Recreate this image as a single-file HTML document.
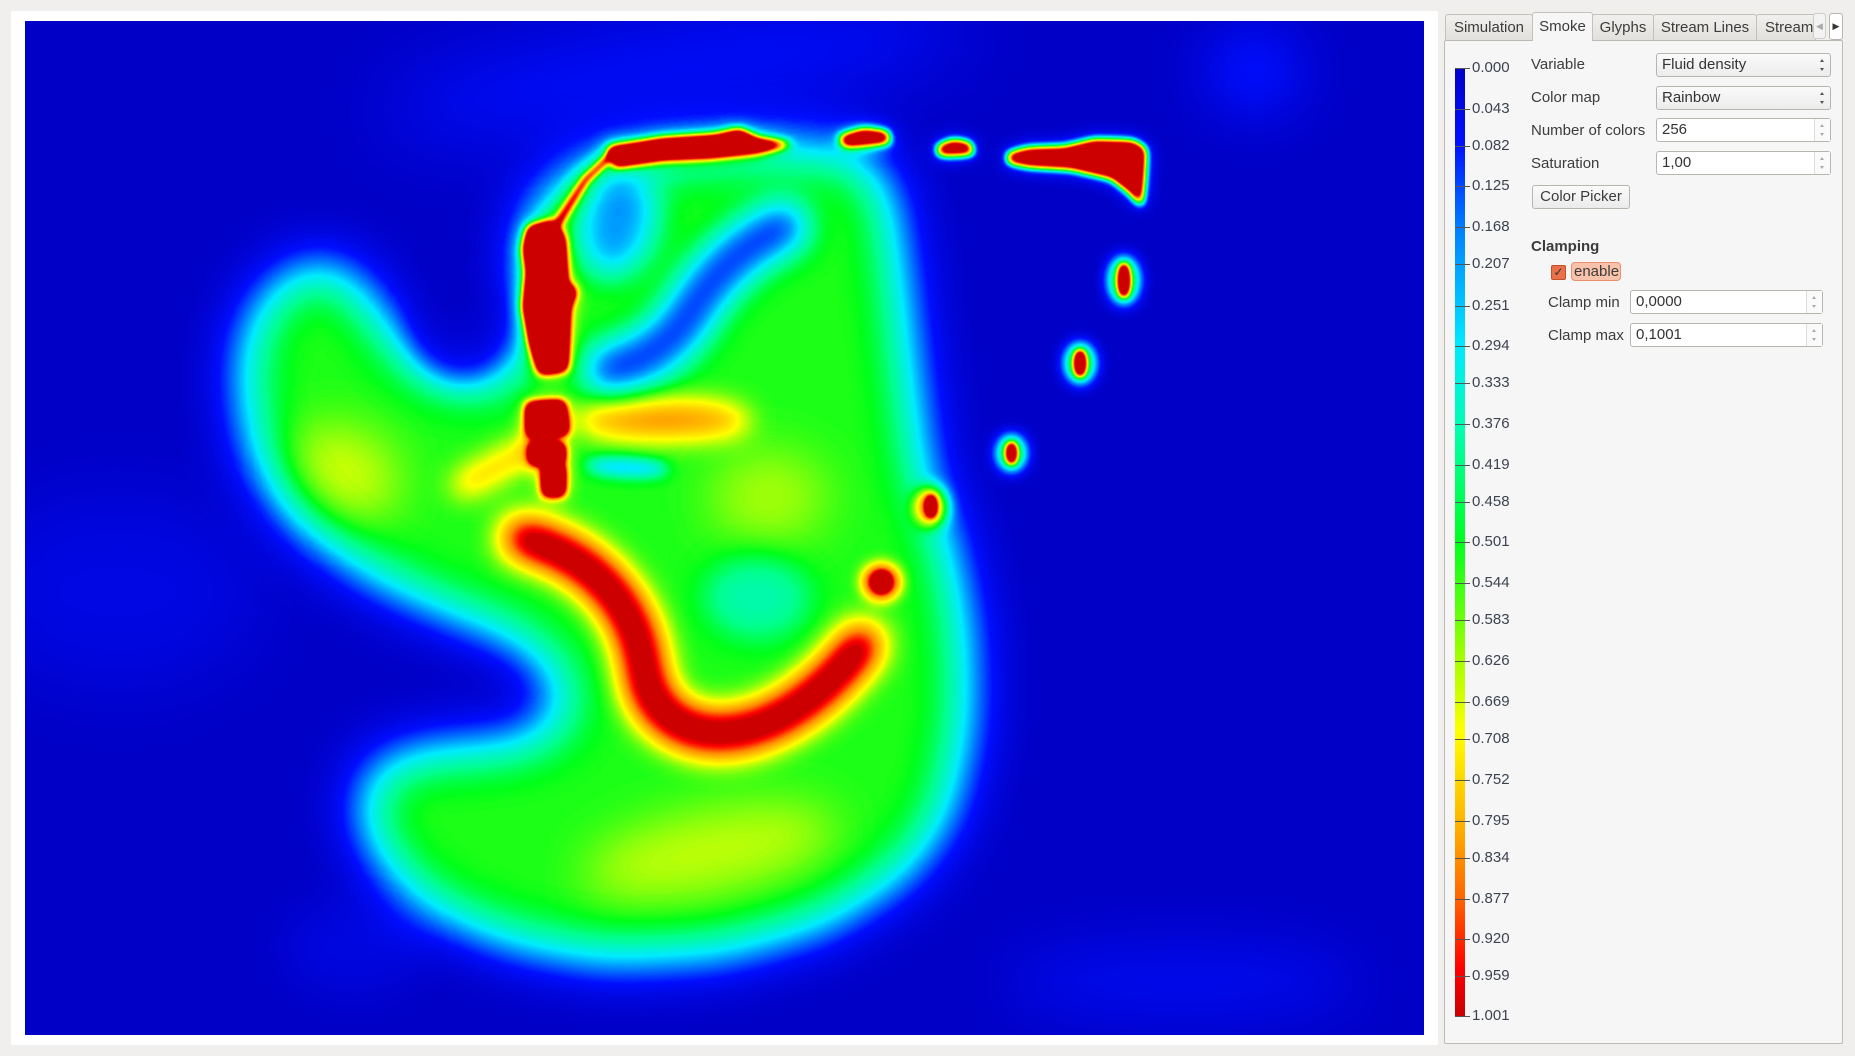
<!DOCTYPE html>
<html><head><meta charset="utf-8">
<style>
body{margin:0;width:1855px;height:1056px;background:#f0efed;position:relative;overflow:hidden;font-family:"Liberation Sans","DejaVu Sans",sans-serif;font-size:15px;color:#3c3c3c}
.abs{position:absolute}
#frame{left:11px;top:11px;width:1427px;height:1034px;background:#fff}
#viz{left:25px;top:21px}
.tab{position:absolute;top:14px;height:26px;border:1px solid #c4c0ba;border-bottom:none;background:linear-gradient(#f1f0ee,#e2e0dc);line-height:26px;text-align:center;border-radius:3px 3px 0 0;box-sizing:border-box;overflow:hidden;white-space:nowrap}
#panel{left:1444px;top:40px;width:399px;height:1004px;background:#f6f6f6;border:1px solid #bdb9b3;border-radius:2px;box-sizing:border-box}
.lbl{position:absolute;line-height:18px}
.combo,.spin{position:absolute;height:24px;border:1px solid #b8b4ae;border-radius:3px;box-sizing:border-box;background:linear-gradient(#fafafa,#ececec);line-height:22px;padding-left:5px;color:#333}
.spin{background:#fff}
.spin .arr{position:absolute;right:0;top:0;width:15px;height:22px;border-left:1px solid #ddd;background:#fafafa}
.arr:before{content:"";position:absolute;left:5px;top:5px;border:2.5px solid transparent;border-bottom:3px solid #aaa;border-top:none}
.arr:after{content:"";position:absolute;left:5px;top:14px;border:2.5px solid transparent;border-top:3px solid #aaa;border-bottom:none}
.combo .arr{position:absolute;right:3px;top:0;width:12px;height:22px}
.combo .arr:before{border-bottom-color:#555}.combo .arr:after{border-top-color:#555}
.tick{position:absolute;left:1455px;width:15px;height:1px;background:#555}
.tl{position:absolute;left:1472px;line-height:16px;font-size:15px;color:#3c4250}
</style></head><body>
<div class="abs" id="frame"></div>
<canvas class="abs" id="viz" width="1399" height="1014"></canvas>

<div class="tab" style="left:1445px;width:88px">Simulation</div>
<div class="tab" style="left:1532px;width:61px;top:12px;height:29px;background:#f6f6f6;z-index:2;line-height:28px">Smoke</div>
<div class="tab" style="left:1592px;width:62px">Glyphs</div>
<div class="tab" style="left:1653px;width:104px">Stream Lines</div>
<div class="tab" style="left:1756px;width:60px;text-align:left;padding-left:8px">Stream</div>
<div class="abs" style="left:1813px;top:13px;width:13px;height:26px;border:1px solid #d0ccc6;border-radius:3px;background:#f3f3f3;box-sizing:border-box;font-size:9px;color:#aaa;line-height:24px;text-align:center">◀</div>
<div class="abs" style="left:1829px;top:13px;width:14px;height:27px;border:1px solid #b8b4ae;border-radius:3px;background:#fff;box-sizing:border-box;font-size:9px;color:#333;line-height:25px;text-align:center">▶</div>

<div class="abs" id="panel"></div>

<div class="abs" style="left:1455px;top:68px;width:10px;height:948px;background:linear-gradient(#0000c8 0%,#0010ff 8%,#0080ff 17%,#00e8ff 29%,#00ffb0 38%,#00ff20 50%,#a0ff00 62%,#ffff00 70%,#ffb000 80%,#ff6000 88%,#ff0000 95%,#c80000 100%)"></div>
<div id="ticks"></div>

<div class="lbl" style="left:1531px;top:56px">Variable</div>
<div class="combo" style="left:1656px;top:53px;width:175px">Fluid density<span class="arr"></span></div>
<div class="lbl" style="left:1531px;top:89px">Color map</div>
<div class="combo" style="left:1656px;top:86px;width:175px">Rainbow<span class="arr"></span></div>
<div class="lbl" style="left:1531px;top:122px">Number of colors</div>
<div class="spin" style="left:1656px;top:118px;width:175px">256<span class="arr"></span></div>
<div class="lbl" style="left:1531px;top:155px">Saturation</div>
<div class="spin" style="left:1656px;top:151px;width:175px">1,00<span class="arr"></span></div>
<div class="abs" style="left:1532px;top:185px;width:98px;height:24px;border:1px solid #b8b4ae;border-radius:3px;box-sizing:border-box;background:linear-gradient(#fbfbfb,#ebebeb);text-align:center;line-height:22px">Color Picker</div>
<div class="lbl" style="left:1531px;top:238px;font-weight:bold">Clamping</div>
<div class="abs" style="left:1551px;top:265px;width:15px;height:15px;border:1px solid #c0502a;border-radius:2px;box-sizing:border-box;background:#e8714a;color:#333;font-size:12px;line-height:13px;text-align:center">✓</div>
<div class="abs" style="left:1571px;top:262px;width:50px;height:19px;border:1px solid #e8906e;border-radius:4px;box-sizing:border-box;background:#f8c2ab;line-height:17px;padding-left:2px">enable</div>
<div class="lbl" style="left:1548px;top:294px">Clamp min</div>
<div class="spin" style="left:1630px;top:290px;width:193px">0,0000<span class="arr"></span></div>
<div class="lbl" style="left:1548px;top:327px">Clamp max</div>
<div class="spin" style="left:1630px;top:323px;width:193px">0,1001<span class="arr"></span></div>

<script>
// legend data
const tickLabels=["0.000","0.043","0.082","0.125","0.168","0.207","0.251","0.294","0.333","0.376","0.419","0.458","0.501","0.544","0.583","0.626","0.669","0.708","0.752","0.795","0.834","0.877","0.920","0.959","1.001"];
const legendMin=0, legendMax=1.001;
// density field data (shown-scale coordinates, value in 0..1.27)
const bodyOutline=[[445,175],[490,140],[560,128],[650,122],[730,125],[755,160],[765,230],[775,320],[785,400],[805,455],[820,530],[822,610],[805,690],[770,740],[700,785],[610,810],[510,815],[430,800],[360,770],[315,725],[300,675],[320,640],[370,630],[440,625],[478,605],[465,565],[430,540],[380,522],[310,490],[250,445],[210,385],[200,310],[215,255],[255,220],[295,225],[325,265],[355,305],[395,322],[435,310],[440,250]];
const bodyValue=0.52;
const redPatches=[
 [[515,125],[560,118],[605,115],[625,110],[640,118],[670,122],[640,128],[600,132],[560,134],[520,140]],
 [[710,116],[730,110],[750,112],[752,120],[714,123]],
 [[792,124],[805,119],[820,121],[823,130],[794,131]],
 [[852,130],[870,126],[900,125],[925,119],[958,120],[968,126],[965,175],[955,162],[940,150],[905,142],[870,140],[852,137]],
 [[447,192],[468,188],[476,202],[478,240],[486,246],[480,260],[478,312],[457,315],[449,290],[443,260],[446,230],[443,210]],
 [[446,342],[476,340],[479,366],[447,368]],
 [[449,376],[476,376],[476,391],[449,391]],
 [[460,394],[476,394],[476,418],[460,418]]
];
const dropletX=[950,913,855,787,745];
const dropletY=[237,307,383,428,492];
const dropletRx=[4,4,3.5,3,6];
const dropletRy=[14,11,9,9,7];
const dropletValue=[1.1,1.1,1.1,1.05,0.8];
// glow patches: cx, cy, rx, ry, rotation, added value, blur
const glowCx=[570,1060,1000,100,290,600,560,650,300];
const glowCy=[60,60,830,500,400,720,355,420,800];
const glowRx=[250,40,150,120,50,110,75,50,60];
const glowRy=[40,35,30,80,40,35,16,40,40];
const glowRot=[-0.15,0,0,0,0.4,-0.2,0,0,0];
const glowVal=[0.12,0.15,0.09,0.06,0.13,0.12,0.34,0.1,0.05];
const glowBlur=[40,30,30,40,25,25,14,25,20];

const S=1855/1568;
const cv=document.getElementById('viz');
const ctx=cv.getContext('2d');
ctx.fillStyle='#000';ctx.fillRect(0,0,cv.width,cv.height);
function setT(){ctx.setTransform(S,0,0,S,-25,-21);}
function g(v){const c=Math.max(0,Math.min(255,Math.round(v*200)));return `rgb(${c},${c},${c})`;}
function poly(p){ctx.beginPath();ctx.moveTo(p[0][0],p[0][1]);for(let i=1;i<p.length;i++)ctx.lineTo(p[i][0],p[i][1]);ctx.closePath();}
setT();
ctx.globalCompositeOperation='lighter';
for(let i=0;i<glowCx.length;i++){
 if(i==6)continue;
 ctx.filter=`blur(${glowBlur[i]}px)`;ctx.fillStyle=g(glowVal[i]);
 ctx.beginPath();ctx.ellipse(glowCx[i],glowCy[i],glowRx[i],glowRy[i],glowRot[i],0,Math.PI*2);ctx.fill();
}
ctx.filter='blur(30px)';ctx.fillStyle=g(bodyValue);poly(bodyOutline);ctx.fill();
// holes
ctx.globalCompositeOperation='source-over';
ctx.filter='blur(16px)';ctx.strokeStyle='rgba(0,0,0,0.75)';ctx.lineWidth=42;ctx.lineCap='round';
ctx.beginPath();ctx.moveTo(662,192);ctx.quadraticCurveTo(610,215,580,270);ctx.quadraticCurveTo(555,305,515,312);ctx.stroke();
ctx.fillStyle='rgba(0,0,0,0.55)';ctx.beginPath();ctx.ellipse(522,190,32,45,0.3,0,Math.PI*2);ctx.fill();
ctx.filter='blur(14px)';ctx.fillStyle='rgba(0,0,0,0.55)';ctx.beginPath();ctx.ellipse(390,275,42,45,0,0,Math.PI*2);ctx.fill();
ctx.filter='blur(7px)';ctx.fillStyle='rgba(0,0,0,0.55)';ctx.beginPath();ctx.ellipse(530,395,35,7,0.05,0,Math.PI*2);ctx.fill();
ctx.filter='blur(16px)';ctx.fillStyle='rgba(0,0,0,0.25)';ctx.beginPath();ctx.ellipse(640,505,45,35,0,0,Math.PI*2);ctx.fill();
// accents
ctx.globalCompositeOperation='lighter';
ctx.filter=`blur(${glowBlur[6]}px)`;ctx.fillStyle=g(glowVal[6]);ctx.beginPath();ctx.ellipse(glowCx[6],glowCy[6],glowRx[6],glowRy[6],0,0,Math.PI*2);ctx.fill();
ctx.strokeStyle=g(0.3);ctx.lineWidth=20;ctx.beginPath();ctx.moveTo(392,410);ctx.lineTo(452,378);ctx.stroke();
ctx.filter='blur(16px)';ctx.strokeStyle=g(0.66);ctx.lineWidth=34;
ctx.beginPath();ctx.moveTo(442,455);ctx.bezierCurveTo(500,470,540,510,545,570);ctx.bezierCurveTo(552,632,650,650,728,545);ctx.stroke();
// red patches: halo then core
for(const p of redPatches){ctx.filter='blur(10px)';ctx.fillStyle=g(0.45);poly(p);ctx.fill();}
ctx.strokeStyle=g(0.45);ctx.lineWidth=8;ctx.beginPath();ctx.moveTo(470,190);ctx.lineTo(495,150);ctx.lineTo(520,128);ctx.stroke();
for(const p of redPatches){ctx.filter='blur(4px)';ctx.fillStyle=g(1.2);poly(p);ctx.fill();}
ctx.filter='blur(3px)';ctx.strokeStyle=g(0.8);ctx.lineWidth=4;ctx.beginPath();ctx.moveTo(472,188);ctx.lineTo(495,152);ctx.lineTo(518,130);ctx.stroke();
for(let i=0;i<dropletX.length;i++){
 ctx.filter='blur(8px)';ctx.fillStyle=g(0.6);ctx.beginPath();ctx.ellipse(dropletX[i],dropletY[i],dropletRx[i]+9,dropletRy[i]+7,0,0,Math.PI*2);ctx.fill();
 ctx.filter='blur(3px)';ctx.fillStyle=g(dropletValue[i]);ctx.beginPath();ctx.ellipse(dropletX[i],dropletY[i],dropletRx[i],dropletRy[i],0,0,Math.PI*2);ctx.fill();
}
ctx.filter='none';ctx.setTransform(1,0,0,1,0,0);ctx.globalCompositeOperation='source-over';
// colormap
const stopsV=[0,0.12,0.3,0.42,0.5,0.68,0.84,0.95,1];
const stopsC=[[0,0,198],[0,14,255],[0,235,255],[0,255,140],[0,255,25],[255,255,0],[255,140,0],[255,0,0],[205,0,0]];
const lut=[];
for(let k=0;k<256;k++){const v=Math.min(1,k/200);let j=0;while(j<stopsV.length-2&&v>stopsV[j+1])j++;
 const t=(v-stopsV[j])/(stopsV[j+1]-stopsV[j]);lut.push(stopsC[j].map((c,m)=>Math.round(c+(stopsC[j+1][m]-c)*t)));}
const im=ctx.getImageData(0,0,cv.width,cv.height);const d=im.data;
for(let i=0;i<d.length;i+=4){const c=lut[d[i]];d[i]=c[0];d[i+1]=c[1];d[i+2]=c[2];d[i+3]=255;}
ctx.putImageData(im,0,0);
// legend ticks
const tk=document.getElementById('ticks');
const y0=68,y1=1016;
tickLabels.forEach((l)=>{
 const v=parseFloat(l);const y=y0+(v-legendMin)/(legendMax-legendMin)*(y1-y0);
 const t=document.createElement('div');t.className='tick';t.style.top=Math.round(y)+'px';
 
 
 tk.appendChild(t);
 const s=document.createElement('div');s.className='tl';s.style.top=Math.round(y-8)+'px';s.textContent=l;
 
 
 tk.appendChild(s);
});
</script>
</body></html>
